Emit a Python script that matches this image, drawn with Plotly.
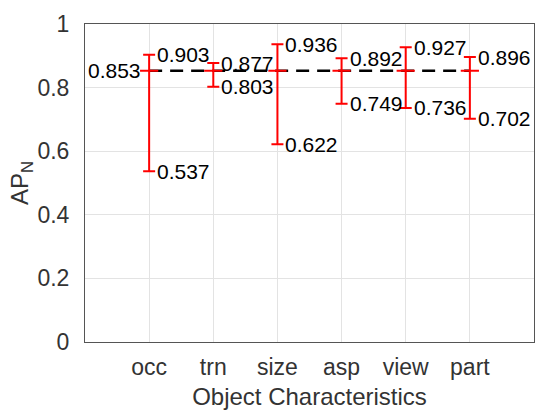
import plotly.graph_objects as go

categories = ["occ", "trn", "size", "asp", "view", "part"]
mean_ap = 0.853
upper = [0.903, 0.877, 0.936, 0.892, 0.927, 0.896]
lower = [0.537, 0.803, 0.622, 0.749, 0.736, 0.702]
y_ticks = [0, 0.2, 0.4, 0.6, 0.8, 1.0]

xpos = list(range(1, len(categories) + 1))
means = [mean_ap] * len(categories)

FONT = "Liberation Sans, Arial, Helvetica, sans-serif"

fig = go.Figure()

# dashed mean line
fig.add_trace(go.Scatter(
    x=[xpos[0], xpos[-1]], y=[mean_ap, mean_ap], mode="lines",
    line=dict(color="black", width=2.5, dash="13px,8px"),
    hoverinfo="skip", showlegend=False))

# error bars
fig.add_trace(go.Scatter(
    x=xpos, y=means, mode="markers",
    marker=dict(symbol="line-ew", size=13, color="red",
                line=dict(color="red", width=2)),
    error_y=dict(type="data", symmetric=False,
                 array=[u - m for u, m in zip(upper, means)],
                 arrayminus=[m - l for l, m in zip(lower, means)],
                 color="red", thickness=2, width=6),
    showlegend=False))

annotations = []
for x, u, l in zip(xpos, upper, lower):
    annotations.append(dict(x=x, y=u, text=f"{u:.3f}", xanchor="left",
                            yanchor="middle", xshift=6, showarrow=False,
                            font=dict(family=FONT, size=21, color="black")))
    annotations.append(dict(x=x, y=l, text=f"{l:.3f}", xanchor="left",
                            yanchor="middle", xshift=6, showarrow=False,
                            font=dict(family=FONT, size=21, color="black")))
annotations.append(dict(x=xpos[0], y=mean_ap, text=f"{mean_ap:.3f}",
                        xanchor="right", yanchor="middle", xshift=-6,
                        showarrow=False,
                        font=dict(family=FONT, size=21, color="black")))

fig.update_layout(
    width=550, height=420,
    margin=dict(l=85, r=16, t=24, b=78, autoexpand=False),
    paper_bgcolor="white", plot_bgcolor="white",
    font=dict(family=FONT, size=22, color="#333333"),
    annotations=annotations,
    xaxis=dict(range=[0, 7], tickvals=xpos, ticktext=categories,
               automargin=False,
               showgrid=True, gridcolor="#e3e3e3", gridwidth=1,
               showline=True, linecolor="#555555", linewidth=1, mirror=True,
               zeroline=False, ticks="outside", ticklen=0,
               ticklabelstandoff=4,
               tickfont=dict(size=23, color="#333333"),
               title=dict(text="Object Characteristics", standoff=9,
                          font=dict(size=24, color="#333333"))),
    yaxis=dict(range=[0, 1], tickvals=y_ticks,
               automargin=False,
               showgrid=True, gridcolor="#e3e3e3", gridwidth=1,
               showline=True, linecolor="#555555", linewidth=1, mirror=True,
               zeroline=False, ticks="outside", ticklen=0,
               ticklabelstandoff=10,
               tickfont=dict(size=23, color="#333333"),
               title=dict(text="AP<sub>N</sub>", standoff=0,
                          font=dict(size=24, color="#333333"))),
)

fig.write_html("out.html",
               config={"displayModeBar": False},
               post_script="document.body.style.margin='0';"
                           "document.body.style.overflow='hidden';")
